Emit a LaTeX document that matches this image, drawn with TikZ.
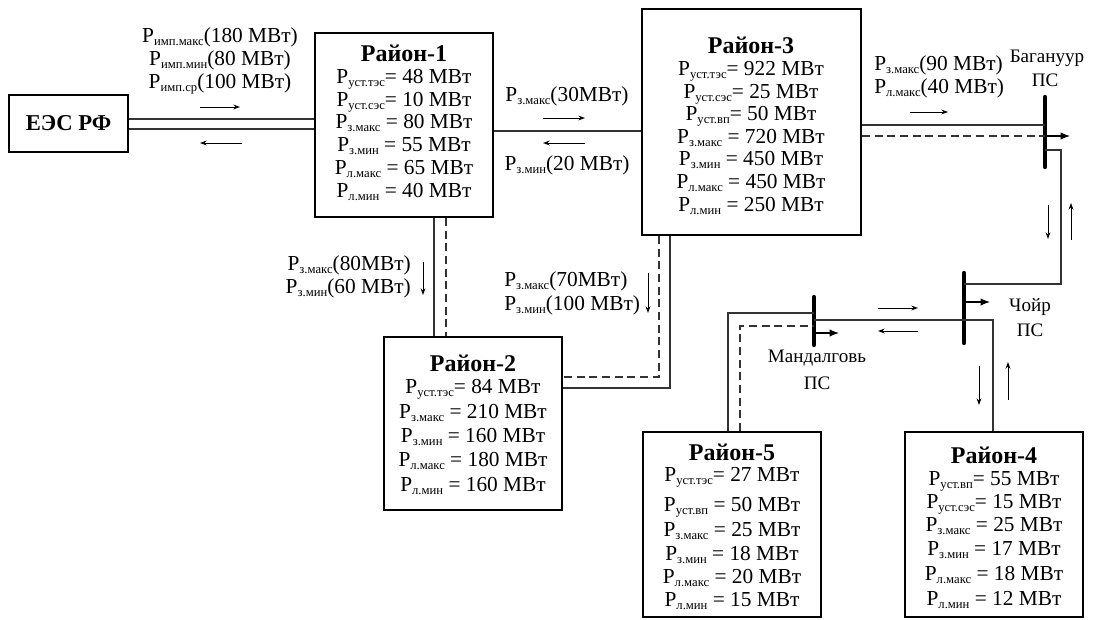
\documentclass[tikz,border=0pt]{standalone}
\usepackage{fontspec}
\setmainfont{Liberation Serif}
\usetikzlibrary{arrows.meta,fit}
\newcommand{\Pp}[1]{P\raisebox{-2.4pt}{\fontsize{9.5}{9.5}\selectfont #1}}
\begin{document}
\begin{tikzpicture}[x=0.75pt,y=-0.75pt,
  box/.style={draw,line width=1.4pt,inner sep=0pt},
  ln/.style={draw=black!80,line width=0.8pt},
  dln/.style={ln,dash pattern=on 6pt off 3.5pt},
  ar/.style={-{Stealth[length=5pt,width=3.6pt]},line width=0.7pt},
  busar/.style={-{Latex[length=7pt,width=5.5pt]},line width=0.9pt},
  bus/.style={line width=3.2pt,line cap=round},
  txt/.style={font=\fontsize{16}{18}\selectfont,inner sep=0pt,anchor=mid},
  ttl/.style={font=\fontsize{18}{20}\selectfont\bfseries,inner sep=0pt},
  ps/.style={font=\fontsize{14.3}{16}\selectfont,inner sep=0pt}]
\useasboundingbox (0,0) rectangle (1097,619);

% boxes
\node[box,fit={(9,95)(128,152)}] (ees) {};
\node[font=\fontsize{17}{19}\selectfont\bfseries,inner sep=0pt] (eest) at (ees.center) {ЕЭС РФ};

\node[box,fit={(315,33)(493,217)}] (r1) {};
\node[ttl] (r1t) at (404,53) {Район-1};
\foreach \t/\y [count=\k] in {{\Pp{уст.тэс}= 48 МВт}/80,{\Pp{уст.сэс}= 10 МВт}/103,{\Pp{з.макс} = 80 МВт}/125,{\Pp{з.мин} = 55 МВт}/148,{\Pp{л.макс} = 65 МВт}/171,{\Pp{л.мин} = 40 МВт}/194}
  \node[txt] (r1l\k) at (404,\y) {\t};

\node[box,fit={(642,9)(861,235)}] (r3) {};
\node[ttl] (r3t) at (751,45) {Район-3};
\foreach \t/\y [count=\k] in {{\Pp{уст.тэс}= 922 МВт}/72,{\Pp{уст.сэс}= 25 МВт}/95,{\Pp{уст.вп}= 50 МВт}/117,{\Pp{з.макс} = 720 МВт}/140,{\Pp{з.мин} = 450 МВт}/162,{\Pp{л.макс} = 450 МВт}/185,{\Pp{л.мин} = 250 МВт}/208}
  \node[txt] (r3l\k) at (751,\y) {\t};

\node[box,fit={(384,337)(562,510)}] (r2) {};
\node[ttl] (r2t) at (473,363) {Район-2};
\foreach \t/\y [count=\k] in {{\Pp{уст.тэс}= 84 МВт}/390,{\Pp{з.макс} = 210 МВт}/415,{\Pp{з.мин} = 160 МВт}/439,{\Pp{л.макс} = 180 МВт}/463,{\Pp{л.мин} = 160 МВт}/488}
  \node[txt] (r2l\k) at (473,\y) {\t};

\node[box,fit={(643,432)(821,617)}] (r5) {};
\node[ttl] (r5t) at (732,452) {Район-5};
\foreach \t/\y [count=\k] in {{\Pp{уст.тэс}= 27 МВт}/478,{\Pp{уст.вп} = 50 МВт}/508,{\Pp{з.макс} = 25 МВт}/533,{\Pp{з.мин} = 18 МВт}/557,{\Pp{л.макс} = 20 МВт}/580,{\Pp{л.мин} = 15 МВт}/603}
  \node[txt] (r5l\k) at (732,\y) {\t};

\node[box,fit={(905,432)(1083,617)}] (r4) {};
\node[ttl] (r4t) at (994,455) {Район-4};
\foreach \t/\y [count=\k] in {{\Pp{уст.вп}= 55 МВт}/482,{\Pp{уст.сэс}= 15 МВт}/505,{\Pp{з.макс} = 25 МВт}/528,{\Pp{з.мин} = 17 МВт}/552,{\Pp{л.макс} = 18 МВт}/577,{\Pp{л.мин} = 12 МВт}/602}
  \node[txt] (r4l\k) at (994,\y) {\t};

% buses
\coordinate (bBt) at (1045,97);  \coordinate (bBb) at (1045,167);
\coordinate (bCt) at (964,273);  \coordinate (bCb) at (964,343);
\coordinate (bMt) at (814,297);  \coordinate (bMb) at (814,345);
\draw[bus] (bBt) -- (bBb);
\draw[bus] (bCt) -- (bCb);
\draw[bus] (bMt) -- (bMb);

% EES - R1
\draw[ln] (ees.east |- 0,119) -- (r1.west |- 0,119);
\draw[ln] (ees.east |- 0,129) -- (r1.west |- 0,129);
\node[txt] (l1) at (220,39) {\Pp{имп.макс}(180 МВт)};
\node[txt] (l2) at (220,62) {\Pp{имп.мин}(80 МВт)};
\node[txt] (l3) at (220,85) {\Pp{имп.ср}(100 МВт)};
\coordinate (a1s) at (200,107); \coordinate (a1e) at (240,107);
\coordinate (a2s) at (242,143); \coordinate (a2e) at (200,143);
\draw[ar] (a1s) -- (a1e);
\draw[ar] (a2s) -- (a2e);

% R1 - R3
\draw[ln] (r1.east |- 0,131) -- (r3.west |- 0,131);
\node[txt] (l4) at (567,98) {\Pp{з.макс}(30МВт)};
\node[txt] (l5) at (567,167) {\Pp{з.мин}(20 МВт)};
\coordinate (a3s) at (543,118); \coordinate (a3e) at (585,118);
\coordinate (a4s) at (585,143); \coordinate (a4e) at (543,143);
\draw[ar] (a3s) -- (a3e);
\draw[ar] (a4s) -- (a4e);

% R1 - R2
\draw[ln] (r1.south -| 434,0) -- (r2.north -| 434,0);
\draw[dln] (r1.south -| 446,0) -- (r2.north -| 446,0);
\node[txt,anchor=mid east] (l6) at (411,267) {\Pp{з.макс}(80МВт)};
\node[txt,anchor=mid east] (l7) at (411,290) {\Pp{з.мин}(60 МВт)};
\coordinate (a5s) at (423,262); \coordinate (a5e) at (423,295);
\draw[ar] (a5s) -- (a5e);

% R3 - R2
\draw[dln] (r3.south -| 659,0) -- (659,377) -- (r2.east |- 0,377);
\draw[ln] (r3.south -| 670,0) -- (670,388) -- (r2.east |- 0,388);
\node[txt,anchor=mid west] (l8) at (504,283) {\Pp{з.макс}(70МВт)};
\node[txt,anchor=mid west] (l9) at (504,307) {\Pp{з.мин}(100 МВт)};
\coordinate (a6s) at (648,273); \coordinate (a6e) at (648,313);
\draw[ar] (a6s) -- (a6e);

% R3 - Baganuur
\draw[ln] (r3.east |- 0,125) -- (bBt |- 0,125);
\draw[dln] (r3.east |- 0,136) -- (bBt |- 0,136);
\coordinate (bBa) at (1070,136);
\draw[busar] (bBt |- 0,136) -- (bBa);
\node[txt,anchor=mid west] (l10) at (874,67) {\Pp{з.макс}(90 МВт)};
\node[txt,anchor=mid west] (l11) at (874,90) {\Pp{л.макс}(40 МВт)};
\coordinate (a7s) at (910,112); \coordinate (a7e) at (948,112);
\draw[ar] (a7s) -- (a7e);
\node[ps] (bBn1) at (1047,58) {Багануур};
\node[ps] (bBn2) at (1045,80) {ПС};

% Baganuur - Choir
\draw[ln] (bBt |- 0,150) -- (1061,150) -- (1061,284) -- (bCt |- 0,284);
\coordinate (a8s) at (1048,205); \coordinate (a8e) at (1048,239);
\coordinate (a9s) at (1071,240); \coordinate (a9e) at (1071,203);
\draw[ar] (a8s) -- (a8e);
\draw[ar] (a9s) -- (a9e);

% Choir
\coordinate (bCa) at (990,302);
\draw[busar] (bCt |- 0,302) -- (bCa);
\node[ps] (bCn1) at (1030,307) {Чойр};
\node[ps] (bCn2) at (1030,330) {ПС};

% Choir - R4 and Mandalgov
\draw[ln] (bMt |- 0,320) -- (993,320) -- (r4.north -| 993,0);
\coordinate (a10s) at (878,308); \coordinate (a10e) at (918,308);
\coordinate (a11s) at (918,331); \coordinate (a11e) at (878,331);
\draw[ar] (a10s) -- (a10e);
\draw[ar] (a11s) -- (a11e);
\coordinate (a12s) at (979,366); \coordinate (a12e) at (979,405);
\coordinate (a13s) at (1008,400); \coordinate (a13e) at (1008,362);
\draw[ar] (a12s) -- (a12e);
\draw[ar] (a13s) -- (a13e);

% Mandalgov
\coordinate (bMa) at (839,333);
\draw[busar] (bMt |- 0,333) -- (bMa);
\node[ps] (bMn1) at (817,358) {Мандалговь};
\node[ps] (bMn2) at (817,383) {ПС};
\draw[ln] (r5.north -| 728,0) -- (728,313) -- (bMt |- 0,313);
\draw[dln] (r5.north -| 740,0) -- (740,326) -- (bMt |- 0,326);
\end{tikzpicture}
\end{document}
